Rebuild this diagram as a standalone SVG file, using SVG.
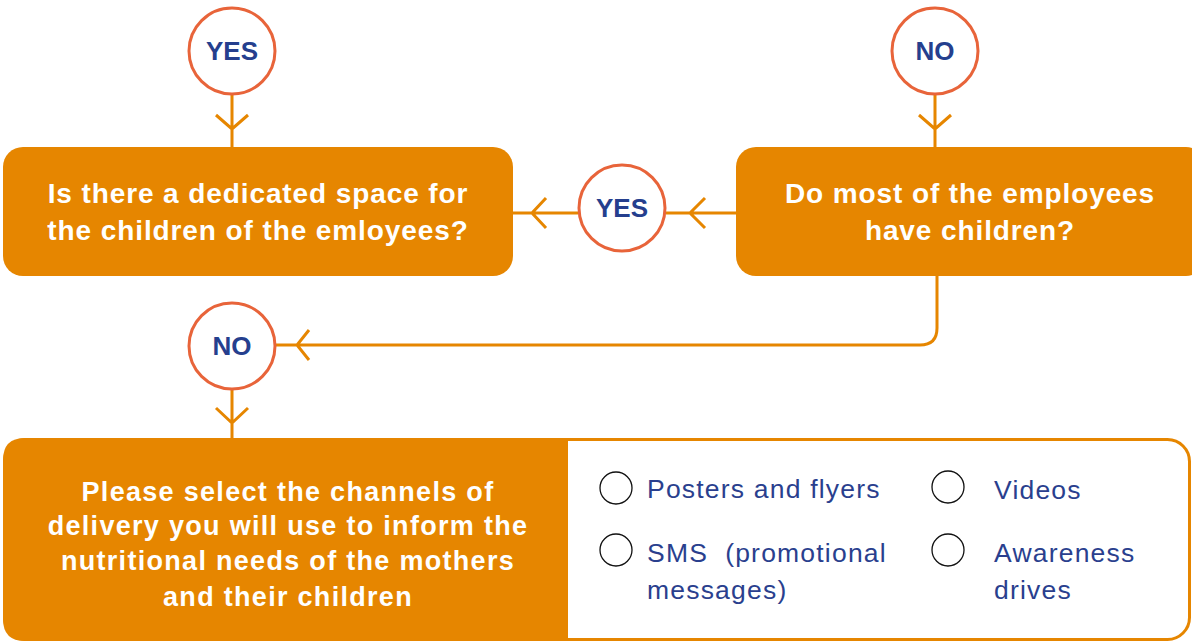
<svg xmlns="http://www.w3.org/2000/svg" width="1192" height="641" viewBox="0 0 1192 641">
<style>
.box{fill:#e68600}
.circ{fill:#fff;stroke:#e8643a;stroke-width:3}
.ct{font-family:"Liberation Sans",Arial,sans-serif;font-weight:bold;font-size:26px;fill:#253f8e;text-anchor:middle}
.bt{font-family:"Liberation Sans",Arial,sans-serif;font-weight:bold;font-size:28px;letter-spacing:0.9px;fill:#fff;text-anchor:middle}
.bt2{font-family:"Liberation Sans",Arial,sans-serif;font-weight:bold;font-size:27px;letter-spacing:1.3px;fill:#fff;text-anchor:middle}
.ot{font-family:"Liberation Sans",Arial,sans-serif;font-size:26.5px;letter-spacing:1.2px;fill:#2a3f8e}
.radio{fill:#fff;stroke:#111;stroke-width:1.3}
.conn{fill:none;stroke:#e68600;stroke-width:3}
</style>
<g id="connectors">
<path class="conn" d="M232,95 V147 M216,115 L232,129 L248,115"/>
<path class="conn" d="M935,95 V147 M919,115 L935,129 L951,115"/>
<path class="conn" d="M736,213 H666 M705,198 L690,213 L705,228"/>
<path class="conn" d="M578,213 H513 M546,198 L532,213 L546,228"/>
<path class="conn" d="M937,275 V328 Q937,345 920,345 H276 M309,330 L297,345 L309,360"/>
<path class="conn" d="M232,390 V439 M216,408 L232,423 L248,408"/>
</g>
<g id="yes-top">
<circle class="circ" cx="232" cy="51" r="43"/>
<text class="ct" x="232" y="60">YES</text>
</g>
<g id="no-top">
<circle class="circ" cx="935" cy="51" r="43"/>
<text class="ct" x="935" y="60">NO</text>
</g>
<g id="q-space">
<rect class="box" x="3" y="147" width="510" height="129" rx="20"/>
<text class="bt" x="258" y="203">Is there a dedicated space for</text>
<text class="bt" x="258" y="240">the children of the emloyees?</text>
</g>
<g id="yes-mid">
<circle class="circ" cx="622" cy="208" r="43"/>
<text class="ct" x="622" y="217">YES</text>
</g>
<g id="q-children">
<rect class="box" x="736" y="147" width="470" height="129" rx="20"/>
<text class="bt" x="970" y="203">Do most of the employees</text>
<text class="bt" x="970" y="240">have children?</text>
</g>
<g id="no-mid">
<circle class="circ" cx="232" cy="346" r="43"/>
<text class="ct" x="232" y="355">NO</text>
</g>
<g id="channels">
<rect x="4.5" y="439.5" width="1185" height="200" rx="22" fill="#fff" stroke="#e68600" stroke-width="3"/>
<path class="box" d="M25,438 H568 V641 H25 Q3,641 3,619 V460 Q3,438 25,438 Z"/>
<text class="bt2" x="288" y="501">Please select the channels of</text>
<text class="bt2" x="288" y="535">delivery you will use to inform the</text>
<text class="bt2" x="288" y="570">nutritional needs of the mothers</text>
<text class="bt2" x="288" y="606">and their children</text>
<circle class="radio" cx="616" cy="488" r="16"/>
<circle class="radio" cx="948" cy="487" r="16"/>
<circle class="radio" cx="616" cy="550" r="16"/>
<circle class="radio" cx="948" cy="550" r="16"/>
<text class="ot" x="647" y="498">Posters and flyers</text>
<text class="ot" x="994" y="499">Videos</text>
<text class="ot" x="647" y="562" xml:space="preserve">SMS  (promotional</text>
<text class="ot" x="647" y="599">messages)</text>
<text class="ot" x="994" y="562">Awareness</text>
<text class="ot" x="994" y="599">drives</text>
</g>
</svg>
